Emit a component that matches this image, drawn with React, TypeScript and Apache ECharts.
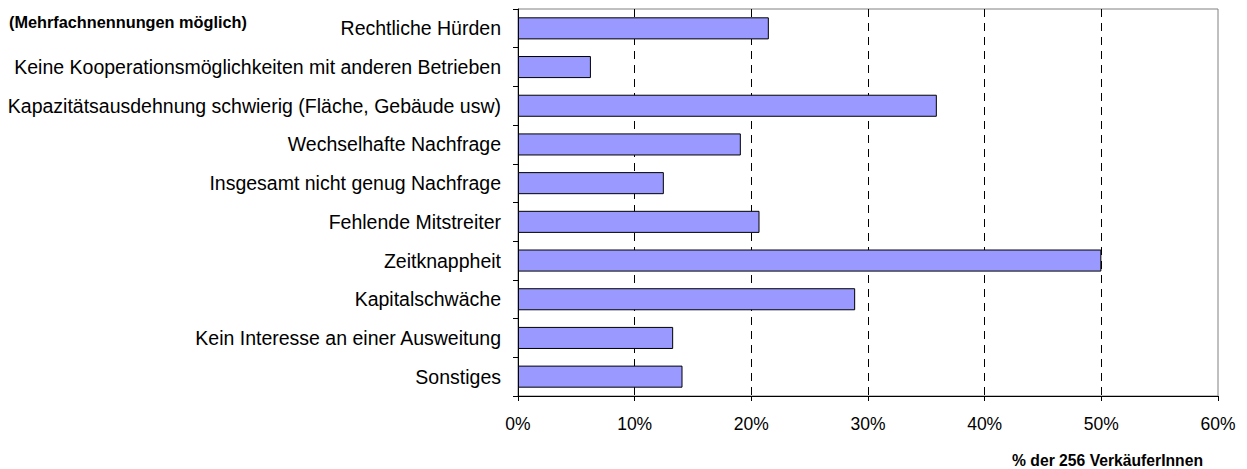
import React, { useEffect, useRef } from "react";
import * as echarts from "echarts";

const categories = [
  "Rechtliche Hürden",
  "Keine Kooperationsmöglichkeiten mit anderen Betrieben",
  "Kapazitätsausdehnung schwierig (Fläche, Gebäude usw)",
  "Wechselhafte Nachfrage",
  "Insgesamt nicht genug Nachfrage",
  "Fehlende Mitstreiter",
  "Zeitknappheit",
  "Kapitalschwäche",
  "Kein Interesse an einer Ausweitung",
  "Sonstiges",
];
const values = [21.5, 6.25, 35.9, 19.1, 12.5, 20.7, 50.0, 28.9, 13.3, 14.1];
const xTicks = [0, 10, 20, 30, 40, 50, 60];
const noteText = "(Mehrfachnennungen möglich)";
const axisTitle = "% der 256 VerkäuferInnen";

export default function App() {
  const ref = useRef<HTMLDivElement>(null);
  useEffect(() => {
    if (!ref.current) return;
    const chart = echarts.init(ref.current, null, { renderer: "svg" });
    const font = "'Liberation Sans', Arial, sans-serif";
    chart.setOption({
      animation: false,
      backgroundColor: "#ffffff",
      textStyle: { fontFamily: font },
      grid: {
        left: 518,
        right: 29,
        top: 9,
        bottom: 73,
        show: true,
        borderColor: "#808080",
        borderWidth: 1,
      },
      graphic: [
        {
          type: "text",
          left: 9,
          top: 14,
          style: { text: noteText, font: `bold 16.3px ${font}`, fill: "#000" },
        },
        {
          type: "text",
          right: 44,
          top: 452,
          style: { text: axisTitle, font: `bold 15.7px ${font}`, fill: "#000" },
        },
      ],
      xAxis: {
        type: "value",
        min: xTicks[0],
        max: xTicks[xTicks.length - 1],
        interval: 10,
        axisLine: { show: true, lineStyle: { color: "#000", width: 1 } },
        axisTick: { show: true, length: 5, inside: false, lineStyle: { color: "#000" } },
        axisLabel: {
          formatter: "{value}%",
          color: "#000",
          fontSize: 17.5,
          fontFamily: font,
          margin: 19,
        },
        splitLine: {
          show: true,
          lineStyle: {
            color: ["transparent", "#000", "#000", "#000", "#000", "#000", "transparent"],
            type: [8, 6],
            width: 1,
          },
        },
      },
      yAxis: {
        type: "category",
        data: categories,
        inverse: true,
        axisLine: { show: true, lineStyle: { color: "#000", width: 1 } },
        axisTick: { show: true, length: 5, alignWithLabel: false, lineStyle: { color: "#000" } },
        axisLabel: { color: "#000", fontSize: 19.5, fontFamily: font, margin: 17 },
        splitLine: { show: false },
      },
      series: [
        {
          type: "bar",
          data: values,
          barCategoryGap: "43%",
          itemStyle: { color: "#9999ff", borderColor: "#000", borderWidth: 1 },
          silent: true,
        },
      ],
    });
    return () => chart.dispose();
  }, []);
  return (
    <div
      ref={ref}
      style={{ position: "fixed", left: 0, top: 0, width: 1247, height: 469 }}
    />
  );
}
